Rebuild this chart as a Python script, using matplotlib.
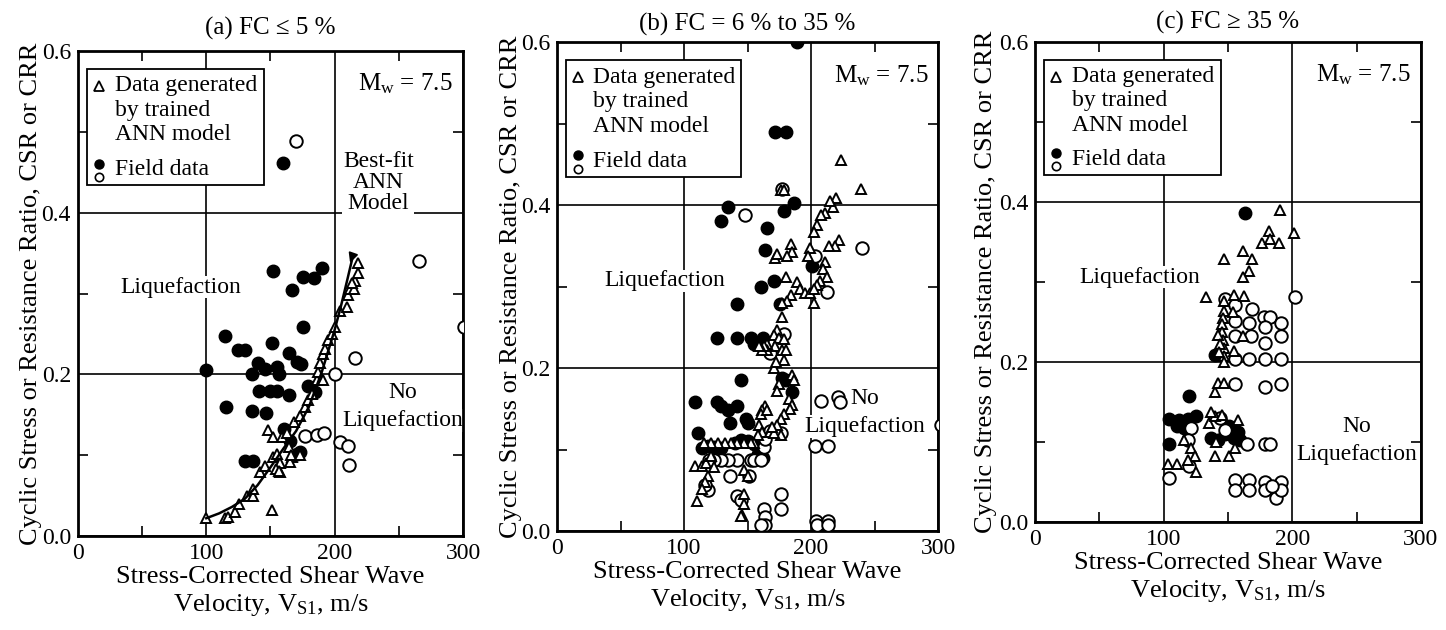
import numpy as np
import matplotlib
matplotlib.use("Agg")
import matplotlib.pyplot as plt
from matplotlib.patches import Rectangle

plt.rcParams["font.family"] = ["Liberation Serif", "DejaVu Serif"]
plt.rcParams["mathtext.fontset"] = "custom"
plt.rcParams["mathtext.rm"] = "Liberation Serif"
plt.rcParams["mathtext.it"] = "Liberation Serif:italic"

## Panel (a) FC <= 5 %
a_liq_x = [160, 152, 167, 175, 184, 190, 175.6, 114.6, 125, 130, 151, 164.5, 170.5, 173.5,
           140.5, 145.8, 135.3, 155, 157, 99.5, 141, 150, 155.4, 164.5, 115, 135.4, 146.3,
           130, 136.6, 179.5, 184.7, 160.5, 170.4, 173, 165]
a_liq_y = [0.462, 0.328, 0.304, 0.32, 0.319, 0.331, 0.259, 0.247, 0.23, 0.23, 0.239, 0.227, 0.215, 0.213,
           0.214, 0.207, 0.200, 0.209, 0.200, 0.205, 0.18, 0.18, 0.18, 0.175, 0.160, 0.155, 0.152,
           0.093, 0.093, 0.185, 0.178, 0.133, 0.102, 0.104, 0.118]
a_nonliq_x = [170, 265.7, 300.5, 216, 200, 177, 186, 192, 204, 210.7, 211.5]
a_nonliq_y = [0.489, 0.34, 0.258, 0.22, 0.2, 0.124, 0.125, 0.127, 0.116, 0.111, 0.088]
a_ann_x = [99.5, 114.6, 117, 122.4, 125.5, 131.5, 136.6, 136.6, 151, 141.8, 145.7, 152.3, 155, 157.4,
           157.4, 148.4, 152, 159, 163, 164.7, 167, 168.6, 173, 177, 179.5, 182, 186, 187.3, 188.6,
           191, 192.5, 191, 195, 197.7, 200, 204, 209.4, 210.7, 212, 214.7, 216, 218.2, 218.2,
           213.4, 154.5, 165, 166, 172.8, 157]
a_ann_y = [0.022, 0.022, 0.024, 0.030, 0.039, 0.050, 0.050, 0.058, 0.032, 0.079, 0.087, 0.098, 0.102, 0.090,
           0.079, 0.131, 0.123, 0.123, 0.127, 0.110, 0.098, 0.141, 0.149, 0.160, 0.168, 0.176, 0.193, 0.203, 0.214,
           0.225, 0.231, 0.193, 0.242, 0.250, 0.258, 0.278, 0.283, 0.298, 0.305, 0.305, 0.315, 0.325, 0.338,
           0.313, 0.083, 0.091, 0.100, 0.100, 0.081]
a_fit_x = [100, 110, 120, 130, 140, 150, 160, 170, 180, 190, 200, 205, 210, 214]
a_fit_y = [0.022, 0.028, 0.036, 0.046, 0.063, 0.085, 0.108, 0.130, 0.160, 0.203, 0.255, 0.285, 0.318, 0.345]

## Panel (b) FC = 6 % to 35 %
b_liq_x = [188.6, 172, 180, 126, 129, 135, 178.7, 186.5, 165.7, 164, 160.5, 171, 142, 175.6,
           126, 142, 153, 162, 155.3, 145, 108.6, 126, 129, 134.5, 136, 142, 149, 150, 111,
           114, 119, 124, 129, 140, 145, 150, 155, 160, 177.5, 180, 185, 200.8, 158, 162]
b_liq_y = [0.600, 0.489, 0.489, 0.459, 0.380, 0.397, 0.393, 0.403, 0.372, 0.345, 0.299, 0.307, 0.279, 0.279,
           0.237, 0.237, 0.237, 0.237, 0.230, 0.185, 0.158, 0.158, 0.153, 0.148, 0.133, 0.153, 0.138, 0.133, 0.120,
           0.102, 0.104, 0.103, 0.102, 0.108, 0.112, 0.110, 0.107, 0.102, 0.188, 0.185, 0.170, 0.325, 0.095, 0.090]
b_nonliq_x = [177.4, 148, 240, 212.5, 203, 178.7, 168, 207.8, 221.6, 222.9, 302, 203, 213,
              203.6, 204.7, 213, 213, 176, 176, 162.6, 164, 164, 160.5, 142, 134.5, 129, 124, 120,
              152.7, 155, 160.5, 136, 151.4, 142, 145, 119, 116.4, 163, 164, 168, 176]
b_nonliq_y = [0.420, 0.388, 0.347, 0.293, 0.337, 0.242, 0.218, 0.160, 0.165, 0.158, 0.130, 0.104, 0.104,
              0.0125, 0.0075, 0.0125, 0.0075, 0.045, 0.027, 0.027, 0.017, 0.0075, 0.0075, 0.0875, 0.0875, 0.0875, 0.0875, 0.0875,
              0.0875, 0.0875, 0.0875, 0.068, 0.068, 0.0425, 0.0375, 0.050, 0.057, 0.1025, 0.1125, 0.1225, 0.120]
b_ann_x = [223.4, 239.7, 176, 178.7, 220, 217.7, 215, 211, 207.8, 204.7, 202, 222, 219, 213.8,
           199.5, 198, 184, 185, 181, 172, 173.5, 211, 209.8, 212.5, 207, 204.7, 180, 189, 191.7,
           195.6, 199.5, 202, 202, 184, 181, 177.4, 177.4, 173.5, 171, 174.8, 172, 178.7, 177.4,
           180, 178.7, 171, 172.2, 165.7, 165.7, 163, 161.8, 159, 185, 186.5, 174.8, 173.5, 182.6,
           185, 183.8, 178.7, 176, 173.5, 176, 164, 161.8, 160.5, 165.7, 159, 161.8, 157.9, 168,
           171, 169.6, 155, 153, 147.5, 142, 137, 132, 127, 121.6, 116, 108.6, 113.8, 117.7,
           121.6, 124, 119, 116.4, 113.8, 110, 147.5, 150, 147.5, 147.5, 146, 145]
b_ann_y = [0.455, 0.420, 0.418, 0.418, 0.409, 0.398, 0.405, 0.390, 0.388, 0.375, 0.367, 0.357, 0.350, 0.350,
           0.347, 0.337, 0.352, 0.342, 0.337, 0.335, 0.340, 0.330, 0.322, 0.312, 0.307, 0.302, 0.312, 0.305, 0.297,
           0.292, 0.292, 0.297, 0.280, 0.290, 0.282, 0.280, 0.262, 0.247, 0.240, 0.237, 0.227, 0.235, 0.222,
           0.222, 0.210, 0.200, 0.207, 0.230, 0.222, 0.227, 0.222, 0.227, 0.192, 0.185, 0.180, 0.172, 0.162,
           0.155, 0.150, 0.143, 0.138, 0.130, 0.118, 0.153, 0.148, 0.143, 0.148, 0.130, 0.122, 0.118, 0.122,
           0.120, 0.128, 0.1075, 0.1075, 0.1075, 0.1075, 0.1075, 0.1075, 0.1075, 0.1075, 0.1075, 0.080, 0.080, 0.083,
           0.092, 0.078, 0.068, 0.060, 0.052, 0.037, 0.075, 0.068, 0.045, 0.033, 0.020, 0.018]

## Panel (c) FC >= 35 %
c_liq_x = [163.5, 140, 120, 104.5, 112, 119, 125.5, 104.5, 110, 116, 137, 142.5, 147.8, 153,
           158, 150.4, 154.3, 159.6]
c_liq_y = [0.386, 0.209, 0.157, 0.129, 0.127, 0.129, 0.132, 0.097, 0.120, 0.117, 0.105, 0.102, 0.110, 0.115,
           0.112, 0.120, 0.105, 0.102]
c_nonliq_x = [202, 147.8, 155.6, 168.8, 178, 183, 155.6, 166, 179, 191, 155.6, 167.5, 179, 191,
              155.6, 166, 179, 191, 155.6, 179, 191, 164.8, 179, 183, 155.6, 155.6, 166, 166,
              179, 179, 187, 191, 191, 184.5, 104.5, 120, 121.5, 119, 144, 147.8]
c_nonliq_y = [0.281, 0.279, 0.271, 0.266, 0.256, 0.256, 0.251, 0.249, 0.244, 0.249, 0.232, 0.232, 0.224, 0.232,
              0.204, 0.204, 0.204, 0.204, 0.172, 0.169, 0.172, 0.097, 0.097, 0.097, 0.052, 0.040, 0.052, 0.040,
              0.050, 0.040, 0.030, 0.050, 0.040, 0.045, 0.055, 0.070, 0.117, 0.102, 0.130, 0.115]
c_ann_x = [190.5, 201.6, 182, 176.6, 183, 189.8, 162, 168.8, 166, 162, 147, 132.5, 146.5, 154.3,
           162.7, 147, 154, 146, 145, 145, 146, 147, 147, 147, 142.5, 144, 143, 154.3, 162,
           140, 142, 146.5, 135, 140, 145, 137, 141, 140, 150.4, 155.6, 158, 116, 121.5, 124,
           125.5, 119, 103, 110]
c_ann_y = [0.390, 0.361, 0.364, 0.349, 0.354, 0.349, 0.339, 0.329, 0.314, 0.306, 0.329, 0.281, 0.276, 0.284,
           0.282, 0.264, 0.262, 0.255, 0.247, 0.237, 0.227, 0.217, 0.207, 0.200, 0.234, 0.222, 0.212, 0.214, 0.232,
           0.162, 0.174, 0.174, 0.124, 0.132, 0.134, 0.137, 0.100, 0.082, 0.082, 0.092, 0.127, 0.102, 0.092, 0.082,
           0.062, 0.077, 0.072, 0.072]

titles = ["(a) FC \u2264 5 %", "(b) FC = 6 % to 35 %", "(c) FC \u2265 35 %"]
x_ticks = [0, 100, 200, 300]
y_ticks = [0.0, 0.2, 0.4, 0.6]

fig = plt.figure(figsize=(14.46, 6.3), dpi=100)
boxes = [
    [0.0539, 0.1492, 0.2663, 0.7698],
    [0.3852, 0.1571, 0.2635, 0.7762],
    [0.7158, 0.1714, 0.2669, 0.7619],
]
ylabel_x = [-0.094, -0.092, -0.098]
title_pad = [12, 8, 10]
panels = [
    (a_liq_x, a_liq_y, a_nonliq_x, a_nonliq_y, a_ann_x, a_ann_y),
    (b_liq_x, b_liq_y, b_nonliq_x, b_nonliq_y, b_ann_x, b_ann_y),
    (c_liq_x, c_liq_y, c_nonliq_x, c_nonliq_y, c_ann_x, c_ann_y),
]
liq_pos = [(80, 0.308), (85, 0.307), (81, 0.306)]
noliq_pos = [(253, 0.178, 0.143), (242, 0.163, 0.128), (250, 0.120, 0.085)]
white = dict(facecolor="white", edgecolor="none", pad=0.5)

for i, (box, data) in enumerate(zip(boxes, panels)):
    lx, ly, nx, ny, tx, ty = data
    ax = fig.add_axes(box)
    ax.set_xlim(0, 300)
    ax.set_ylim(0, 0.6)
    ax.set_xticks(x_ticks)
    ax.set_yticks(y_ticks)
    ax.set_xticklabels(["0", "100", "200", "300"])
    ax.set_yticklabels(["0.0", "0.2", "0.4", "0.6"])
    ax.set_xticks([50, 150, 250], minor=True)
    ax.set_yticks([0.1, 0.3, 0.5], minor=True)
    ax.tick_params(which="major", length=0, labelsize=17, pad=5)
    ax.tick_params(which="minor", direction="in", length=7, width=1.2,
                   top=True, right=True)
    ax.grid(which="major", color="black", lw=1.2, zorder=0)
    ax.set_axisbelow(True)
    for sp in ax.spines.values():
        sp.set_linewidth(2.0)

    ax.plot(lx, ly, "o", ms=9, mfc="black", mec="black", zorder=3)
    ax.plot(nx, ny, "o", ms=9, mfc="white", mec="black", mew=1.4, zorder=3)
    ax.plot(tx, ty, "^", ms=7.5, mfc="white", mec="black", mew=1.4, zorder=4)

    if i == 0:
        ax.plot(a_fit_x, a_fit_y, color="black", lw=1.8, zorder=5)
        ax.annotate("Best-fit\nANN\nModel", xy=(212, 0.338), xytext=(234, 0.437),
                    ha="center", va="center", fontsize=17, linespacing=1.0,
                    bbox=white, zorder=6,
                    arrowprops=dict(arrowstyle="-|>", color="black", lw=1.3,
                                    shrinkA=30, shrinkB=0, mutation_scale=14))

    ax.text(*liq_pos[i], "Liquefaction", ha="center", va="center", fontsize=17,
            bbox=white, zorder=2)
    nxp, ny1, ny2 = noliq_pos[i]
    ax.text(nxp, ny1, "No", ha="center", va="center", fontsize=17, bbox=white, zorder=2)
    ax.text(nxp, ny2, "Liquefaction", ha="center", va="center", fontsize=17,
            bbox=white, zorder=2)
    ax.text(0.85, 0.932, "M$_{\\rm w}$ = 7.5", transform=ax.transAxes, ha="center",
            va="center", fontsize=18)

    # legend box
    ax.add_patch(Rectangle((0.023, 0.723), 0.46, 0.24, transform=ax.transAxes,
                           facecolor="white", edgecolor="black", lw=1.3, zorder=7))
    ax.plot([0.055], [0.928], "^", ms=7, mfc="white", mec="black", mew=1.3,
            transform=ax.transAxes, zorder=8)
    for line, yy in zip(["Data generated", "by trained", "ANN model"], [0.928, 0.878, 0.827]):
        ax.text(0.095, yy, line, transform=ax.transAxes, ha="left", va="center",
                fontsize=17, zorder=8)
    ax.plot([0.055], [0.768], "o", ms=6.5, mfc="black", mec="black",
            transform=ax.transAxes, zorder=8)
    ax.plot([0.055], [0.741], "o", ms=6, mfc="white", mec="black", mew=1.2,
            transform=ax.transAxes, zorder=8)
    ax.text(0.095, 0.755, "Field data", transform=ax.transAxes, ha="left",
            va="center", fontsize=17, zorder=8)

    ax.set_title(titles[i], fontsize=18, pad=title_pad[i])
    ax.set_xlabel("Stress-Corrected Shear Wave\nVelocity, V$_{\\rm S1}$, m/s",
                  fontsize=19, linespacing=1.2)
    ax.xaxis.set_label_coords(0.5, -0.062)
    ax.set_ylabel("Cyclic Stress or Resistance Ratio, CSR or CRR", fontsize=19)
    ax.yaxis.set_label_coords(ylabel_x[i], 0.5)

fig.savefig("out.png", dpi=100)
